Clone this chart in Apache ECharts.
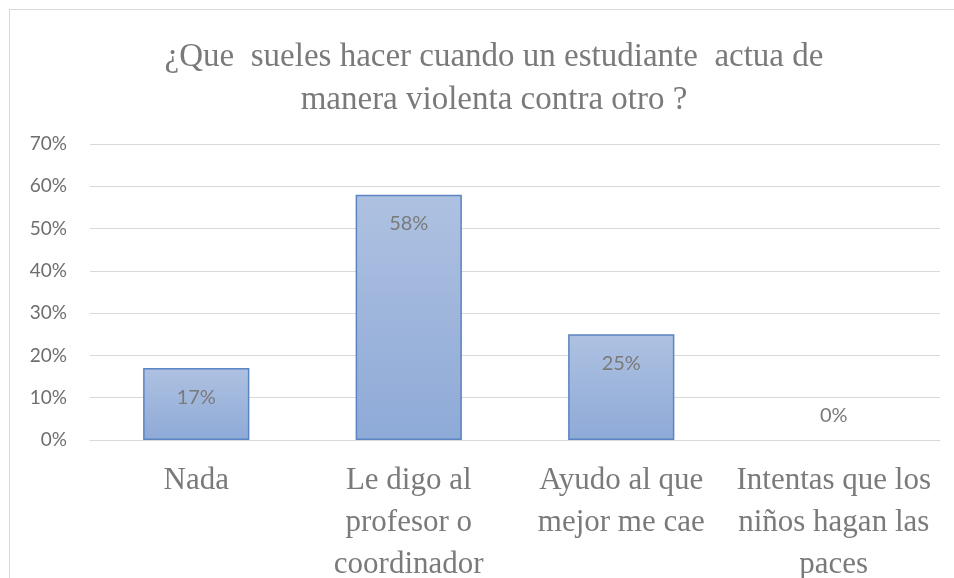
<!DOCTYPE html>
<html>
<head>
<meta charset="utf-8">
<script src="https://cdn.jsdelivr.net/npm/echarts@6/dist/echarts.min.js"></script>
<style>
  html, body { margin: 0; padding: 0; background: #fff; }
  #frame { position: absolute; left: 9px; top: 9px; width: 1000px; height: 600px; border: 1px solid #d9d9d9; }
  #chart { position: absolute; left: 0; top: 0; width: 954px; height: 578px; }
</style>
</head>
<body>
<div id="frame"></div>
<div id="chart"></div>
<script>
// categorias y valores (fraccion)
var categories = [
    'Nada',
    'Le digo al\nprofesor o\ncoordinador',
    'Ayudo al que\nmejor me cae',
    'Intentas que los\nniños hagan las\npaces'
];
var values = [0.17, 0.58, 0.25, 0];
var titleText = '¿Que  sueles hacer cuando un estudiante  actua de\nmanera violenta contra otro ?';

var chart = echarts.init(document.getElementById('chart'));

var serif = '"Liberation Serif", "DejaVu Serif", serif';
var sans = 'Lato, "Liberation Sans", sans-serif';

var barColor = new echarts.graphic.LinearGradient(0, 0, 0, 1, [
    { offset: 0, color: '#aec1e1' },
    { offset: 1, color: '#8eaad7' }
]);

var option = {
    animation: false,
    title: {
        text: titleText,
        left: 489,
        top: 31,
        textAlign: 'center',
        textStyle: {
            fontFamily: serif,
            fontSize: 33,
            fontWeight: 'normal',
            color: '#7a7a7a',
            lineHeight: 43
        }
    },
    grid: {
        left: 90,
        right: 14,
        top: 144,
        bottom: 138,
        outerBoundsMode: 'none',
        containLabel: false
    },
    xAxis: {
        type: 'category',
        data: categories,
        axisLine: { lineStyle: { color: '#d9d9d9', width: 1 } },
        axisTick: { show: false },
        axisLabel: {
            interval: 0,
            margin: 20,
            fontFamily: serif,
            fontSize: 31,
            lineHeight: 42,
            color: '#7a7a7a'
        }
    },
    yAxis: {
        type: 'value',
        min: 0,
        max: 0.7,
        interval: 0.1,
        axisLine: { show: false },
        axisTick: { show: false },
        splitLine: { lineStyle: { color: '#d9d9d9', width: 1 } },
        axisLabel: {
            margin: 23,
            fontFamily: sans,
            fontSize: 19,
            color: '#6e6e6e',
            formatter: function (v) { return Math.round(v * 100) + '%'; }
        }
    },
    series: [{
        type: 'bar',
        barWidth: '50%',
        data: values.map(function (v) {
            return v === 0
                ? { value: v, itemStyle: { borderWidth: 0 }, label: { position: 'top', distance: 14 } }
                : v;
        }),
        itemStyle: {
            color: barColor,
            borderColor: '#5a84c2',
            borderWidth: 1.5
        },
        label: {
            show: true,
            position: 'insideTop',
            distance: 19,
            fontFamily: sans,
            fontSize: 20,
            color: '#7a7a7a',
            formatter: function (p) { return Math.round(p.value * 100) + '%'; }
        }
    }]
};

chart.setOption(option);
</script>
</body>
</html>
